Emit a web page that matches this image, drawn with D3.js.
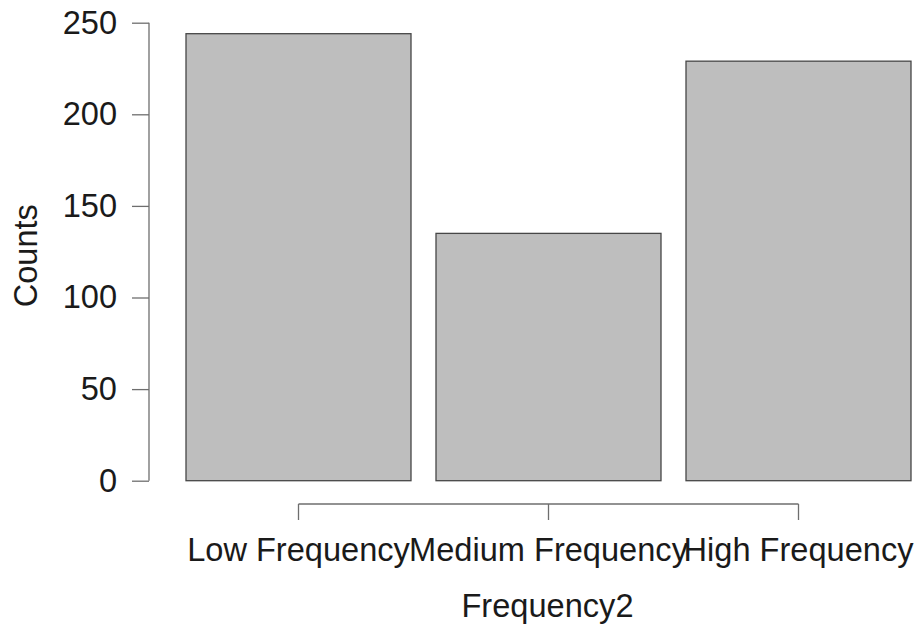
<!DOCTYPE html>
<html>
<head>
<meta charset="utf-8">
<script src="https://cdn.jsdelivr.net/npm/d3@7"></script>
<style>
  html, body { margin: 0; padding: 0; background: #fff; }
  svg { display: block; }
  text { font-family: "Liberation Sans", Arial, Helvetica, sans-serif; fill: #1a1a1a; }
</style>
</head>
<body>
<svg id="chart" width="921" height="628"></svg>
<script>
const categories = ["Low Frequency", "Medium Frequency", "High Frequency"];
const counts = [244, 135, 229];
const yTicks = [0, 50, 100, 150, 200, 250];
const xTitle = "Frequency2";
const yTitle = "Counts";

const svg = d3.select("#chart");
const fontSize = 32.6;

const x = d3.scaleBand()
  .domain(categories)
  .range([173.5, 923.5])
  .paddingInner(0.1)
  .paddingOuter(0.05);

const y = d3.scaleLinear()
  .domain([0, 250])
  .range([480.7, 22.7]);

// bars
svg.append("g").selectAll("rect")
  .data(categories)
  .join("rect")
  .attr("x", d => x(d))
  .attr("y", (d, i) => y(counts[i]))
  .attr("width", x.bandwidth())
  .attr("height", (d, i) => y(0) - y(counts[i]))
  .attr("fill", "#bebebe")
  .attr("stroke", "#474747")
  .attr("stroke-width", 1.3);

// y axis (R style)
const yAxis = d3.axisLeft(y).tickValues(yTicks).tickSize(17).tickPadding(15).tickSizeOuter(0);
const gy = svg.append("g").attr("transform", "translate(149,0)").call(yAxis);
gy.select(".domain").attr("stroke", "#6e6e6e").attr("stroke-width", 1.3)
  .attr("d", `M0,${y(0)}V${y(250)}`);
gy.selectAll(".tick line").attr("stroke", "#6e6e6e").attr("stroke-width", 1.3);
gy.selectAll(".tick text")
  .attr("font-size", fontSize)
  .attr("font-family", "Liberation Sans, Arial, sans-serif")
  .attr("fill", "#1a1a1a");

// x axis (R style, from first to last tick)
const centers = categories.map(c => x(c) + x.bandwidth() / 2);
const xAxis = d3.axisBottom(x).tickSize(16).tickPadding(18).tickSizeOuter(0);
const gx = svg.append("g").attr("transform", "translate(0,504)").call(xAxis);
gx.select(".domain").attr("stroke", "#6e6e6e").attr("stroke-width", 1.3)
  .attr("d", `M${centers[0]},0H${centers[centers.length - 1]}`);
gx.selectAll(".tick line").attr("stroke", "#6e6e6e").attr("stroke-width", 1.3);
gx.selectAll(".tick text")
  .attr("font-size", fontSize)
  .attr("font-family", "Liberation Sans, Arial, sans-serif")
  .attr("fill", "#1a1a1a");

// axis titles
svg.append("text")
  .attr("x", x.range()[0] + (x.range()[1] - x.range()[0]) / 2 - 1)
  .attr("y", 617)
  .attr("text-anchor", "middle")
  .attr("font-size", fontSize)
  .text(xTitle);

svg.append("text")
  .attr("transform", `translate(37,${(y(0) + y(250)) / 2 + 4}) rotate(-90)`)
  .attr("text-anchor", "middle")
  .attr("font-size", fontSize)
  .text(yTitle);
</script>
</body>
</html>
